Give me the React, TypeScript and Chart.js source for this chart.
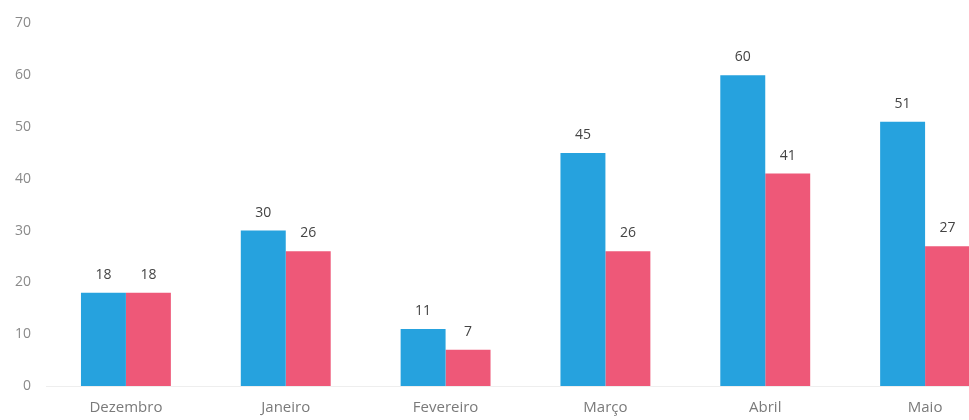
import React, { useEffect, useRef } from "react";
import { Chart, registerables } from "chart.js";

Chart.register(...registerables);

const categories = ["Dezembro", "Janeiro", "Fevereiro", "Março", "Abril", "Maio"];
const seriesBlue = [18, 30, 11, 45, 60, 51];
const seriesPink = [18, 26, 7, 26, 41, 27];
const yTicks = [0, 10, 20, 30, 40, 50, 60, 70];

const FONT = "'Open Sans', 'Noto Sans', sans-serif";

const valueLabels = {
  id: "valueLabels",
  afterDatasetsDraw(chart: any) {
    const ctx = chart.ctx;
    ctx.save();
    ctx.font = `14px ${FONT}`;
    ctx.fillStyle = "#444444";
    ctx.textAlign = "center";
    ctx.textBaseline = "bottom";
    chart.data.datasets.forEach((ds: any, i: number) => {
      const meta = chart.getDatasetMeta(i);
      meta.data.forEach((bar: any, j: number) => {
        ctx.fillText(String(ds.data[j]), bar.x, bar.y - 11);
      });
    });
    ctx.restore();
  },
};

export default function App() {
  const ref = useRef<HTMLCanvasElement | null>(null);
  useEffect(() => {
    if (!ref.current) return;
    const chart = new Chart(ref.current, {
      type: "bar",
      data: {
        labels: categories,
        datasets: [
          { data: seriesBlue, backgroundColor: "#26a2de", borderWidth: 0 },
          { data: seriesPink, backgroundColor: "#ee5878", borderWidth: 0 },
        ],
      },
      options: {
        animation: false,
        responsive: false,
        layout: { padding: { top: 18, right: 5, left: 0, bottom: 0 } },
        plugins: { legend: { display: false }, tooltip: { enabled: false } },
        datasets: { bar: { barPercentage: 1, categoryPercentage: 0.5625 } },
        scales: {
          x: {
            grid: { display: false, drawTicks: false },
            border: { display: true, color: "#eeeeee" },
            ticks: { color: "#7a7a7a", font: { size: 15, family: FONT }, padding: 13 },
            afterFit: (s: any) => { s.height = 34; },
          },
          y: {
            min: 0,
            max: 70,
            afterBuildTicks: (s: any) => { s.ticks = yTicks.map((v) => ({ value: v })); },
            grid: { display: false, drawTicks: false },
            border: { display: false },
            ticks: { color: "#8a8a8a", font: { size: 14, family: FONT }, padding: 15 },
            afterFit: (s: any) => { s.width = 46; },
          },
        },
      },
      plugins: [valueLabels],
    });
    return () => chart.destroy();
  }, []);
  return (
    <div style={{ position: "fixed", left: 0, top: 0, width: 969, height: 420, overflow: "hidden", background: "#fff" }}>
      <canvas ref={ref} width={1010} height={420} style={{ display: "block" }} />
    </div>
  );
}
